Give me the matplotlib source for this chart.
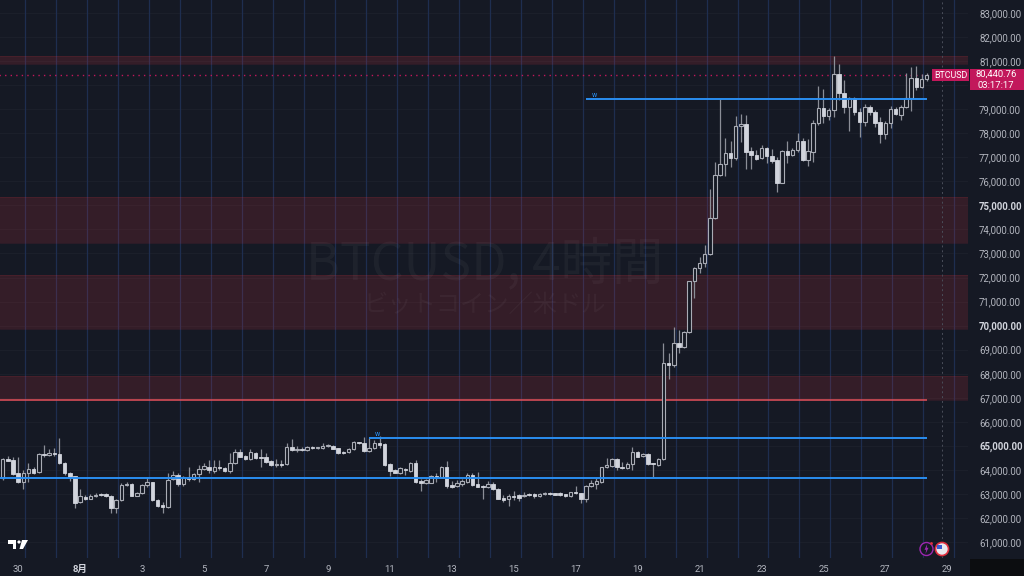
import matplotlib
matplotlib.use('Agg')
import matplotlib.pyplot as plt
from matplotlib.patches import Rectangle, Circle, Polygon
import numpy as np

# 4h candles, BTCUSD (first candle = Jul 29 12:00)
opens = [63652, 64442, 64414, 63859, 63485, 63859, 64040, 63901, 64677, 64608,
         64705, 64663, 64289, 63873, 63735, 62654, 62889, 62806, 62917, 63000,
         63000, 62917, 62404, 62737, 63360, 63416, 62931, 63028, 63374, 63485,
         62765, 62529, 62446, 63610, 63790, 63416, 63693, 63610, 63832, 64040,
         64137, 63970, 64109, 64081, 63970, 64275, 64746, 64580, 64442, 64719,
         64525, 64538, 64372, 64220, 64261, 64234, 64940, 64830, 64857, 64830,
         64968, 64913, 64913, 64996, 65010, 64899, 64760, 64733, 64857, 65148,
         65107, 64802, 64899, 65135, 65065, 64234, 63984, 63859, 64040, 63970,
         64303, 63541, 63444, 63471, 63749, 63721, 64137, 63374, 63333, 63416,
         63513, 63790, 63402, 63333, 63305, 63416, 63208, 62848, 62778, 62917,
         62945, 62917, 63000, 62986, 62917, 62986, 63042, 63028, 63042, 62986,
         62917, 63069, 63028, 62778, 63333, 63402, 63513, 64109, 64178, 64442,
         64137, 64081, 64247, 64760, 64580, 64649, 64275, 64206, 64443, 68460,
         68349, 69264, 69098, 69736, 71842, 72383, 72591, 72965, 74462, 76264,
         76721, 77165, 76957, 78301, 78384, 77276, 77095, 76957, 77372, 77054,
         76887, 75946, 77262, 77096, 77304, 77692, 76888, 77235, 78413, 79037,
         78718, 78967, 80464, 79660, 79078, 79452, 78898, 78482, 79078, 78898,
         78482, 77969, 78413, 78995, 78759, 79078, 79452, 80284, 79910, 80242]
highs = [64483, 64594, 64552, 64525, 63998, 64275, 64137, 64691, 65038, 64857,
         64899, 65315, 64344, 63929, 63749, 63194, 62958, 63000, 63055, 63042,
         63028, 62958, 62778, 63444, 63513, 63444, 63097, 63402, 63721, 63513,
         62806, 62681, 63859, 63970, 63859, 63749, 64137, 63887, 64206, 64303,
         64414, 64414, 64414, 64137, 64691, 64857, 64857, 64622, 64857, 64760,
         64857, 64691, 64414, 64442, 64414, 65107, 65301, 64996, 64968, 64996,
         64996, 64968, 65107, 65079, 65038, 64927, 64802, 64899, 65218, 65176,
         65356, 65315, 65245, 65412, 65107, 64303, 64026, 64109, 64067, 64344,
         64414, 63610, 63610, 63790, 63859, 64164, 64386, 63541, 63582, 63610,
         63887, 63859, 63929, 63360, 63541, 63513, 63236, 62958, 63000, 63139,
         63000, 63097, 63055, 63028, 63028, 63069, 63069, 63055, 63069, 63014,
         63097, 63333, 63055, 63360, 63582, 63652, 64137, 64483, 64483, 64483,
         64344, 64344, 64940, 64802, 64719, 64691, 64303, 64483, 69266, 68849,
         69930, 69819, 69791, 71870, 72452, 72868, 73353, 75668, 76818, 79410,
         77788, 77691, 78717, 78800, 78758, 77414, 77303, 77511, 77442, 77331,
         77026, 77304, 77692, 77373, 77997, 77789, 77748, 78551, 79965, 79827,
         79037, 81213, 80880, 80215, 79522, 79522, 79037, 79217, 79175, 78967,
         78662, 78524, 79134, 79078, 79175, 80520, 80769, 80797, 80464, 80520]
lows = [63582, 64358, 63790, 63444, 63194, 63513, 63832, 63887, 64525, 64580,
        64580, 64247, 63790, 63541, 62432, 62612, 62751, 62778, 62889, 62917,
        62875, 62196, 62196, 62709, 63333, 62917, 62903, 63000, 63305, 62709,
        62473, 62224, 62404, 63582, 63319, 63347, 63541, 63582, 63513, 63998,
        63887, 63887, 63998, 63929, 63859, 64247, 64525, 64414, 64414, 64442,
        64109, 64303, 64178, 64137, 64109, 64206, 64802, 64760, 64802, 64802,
        64885, 64885, 64885, 64968, 64857, 64663, 64677, 64719, 64830, 65093,
        64760, 64760, 64857, 64899, 64178, 63762, 63859, 63832, 63790, 63929,
        63471, 63139, 63416, 63444, 63513, 63693, 63236, 63236, 63305, 63333,
        63471, 63333, 63277, 62778, 63263, 63166, 62778, 62681, 62501, 62751,
        62695, 62889, 62917, 62834, 62889, 62958, 62958, 62945, 62931, 62875,
        62889, 63000, 62640, 62681, 63305, 63194, 63471, 64067, 64137, 63998,
        64026, 64053, 63998, 64525, 64552, 64220, 63693, 64178, 64420, 67768,
        68294, 68849, 69070, 69708, 71136, 72175, 72452, 72937, 74434, 76222,
        76222, 76610, 76887, 77650, 76513, 76513, 76887, 76915, 76749, 76777,
        75571, 75918, 76777, 77054, 77235, 76860, 76639, 76819, 78343, 78441,
        78551, 78690, 79383, 78856, 78108, 78759, 77831, 78302, 78759, 78246,
        77609, 77748, 78205, 78759, 78551, 79037, 78939, 79799, 79868, 80187]
closes = [64442, 64386, 63832, 63485, 63859, 64026, 63887, 64663, 64622, 64705,
          64649, 64275, 63859, 63721, 62640, 62903, 62792, 62917, 62972, 62945,
          62903, 62418, 62751, 63374, 63416, 62931, 63042, 63374, 63499, 62751,
          62515, 62473, 63582, 63776, 63416, 63693, 63610, 63832, 64026, 64164,
          63998, 64109, 64067, 63970, 64275, 64746, 64552, 64442, 64733, 64511,
          64497, 64331, 64220, 64261, 64220, 64940, 64830, 64857, 64830, 64968,
          64913, 64940, 64996, 65024, 64885, 64691, 64691, 64857, 65176, 65107,
          64802, 64899, 65107, 65038, 64206, 63970, 63887, 64067, 63998, 64303,
          63513, 63444, 63582, 63749, 63721, 64137, 63347, 63305, 63444, 63554,
          63790, 63374, 63305, 63305, 63416, 63194, 62806, 62751, 62917, 62862,
          62848, 62972, 62945, 62903, 63000, 63028, 62986, 62972, 62958, 62903,
          63069, 63028, 62806, 63333, 63444, 63541, 64109, 64206, 64442, 64109,
          64081, 64247, 64760, 64552, 64663, 64247, 64234, 64442, 68460, 68349,
          69264, 69098, 69736, 71842, 72383, 72591, 72965, 74462, 76264, 76721,
          77165, 76984, 78301, 78384, 77234, 77095, 76929, 77372, 77054, 76860,
          75945, 77262, 77096, 77304, 77692, 76888, 77262, 78413, 79037, 78718,
          78967, 80464, 79660, 79078, 79452, 78898, 78482, 79078, 78898, 78441,
          77969, 78441, 78995, 78801, 79078, 79452, 80284, 79910, 80242, 80441]

day_labels = ['30', '8月', '3', '5', '7', '9', '11', '13', '15', '17', '19',
              '21', '23', '25', '27', '29']
price_ticks = list(range(61000, 84000, 1000))

zones = [(80879, 81212), (73437, 75349), (69861, 72106), (66909, 67907)]
red_level = 66909
blue_levels = [79424, 65328, 63665]
blue_starts = [113, 71, -1]
last_price = 80440.76

BG = '#151924'
TXT = '#b2b5be'
PINK = '#c2185b'

plt.rcParams['font.family'] = ['Roboto', 'Noto Sans CJK JP', 'DejaVu Sans']

fig = plt.figure(figsize=(10.24, 5.76), dpi=100, facecolor=BG)
ax = fig.add_axes([0, 18 / 576, 968 / 1024, 558 / 576])
ax.set_facecolor(BG)
ax.set_xlim(-0.52, 187.0)
ax.set_ylim(60339, 83540)
for s in ax.spines.values():
    s.set_visible(False)

# grid
for p in price_ticks:
    ax.axhline(p, color='#1c202b', lw=0.7, zorder=0)
for vx in np.arange(4.35, 187, 6):
    ax.axvline(vx, color='#1e2e50', lw=0.9, zorder=0)

# zones and levels
for lo, hi in zones:
    ax.axhspan(lo, hi, facecolor='#f23645', alpha=0.14, lw=0, zorder=1)
    ax.axhline(lo, color='#f23645', alpha=0.12, lw=0.6, zorder=1)
    ax.axhline(hi, color='#f23645', alpha=0.12, lw=0.6, zorder=1)
ax.hlines(red_level, -1, 179, color='#e0505a', lw=1.1, zorder=2)
for lvl, st in zip(blue_levels, blue_starts):
    ax.hlines(lvl, st, 179, color='#2a8ef0', lw=1.4, zorder=5)
    if st > 0:
        ax.text(st + 1.6, lvl, 'w', color='#2a8ef0', fontsize=5,
                ha='center', va='bottom', zorder=5)

ax.hlines(last_price, -1, 180, color=PINK, lw=1, linestyles=(0, (1, 3)), zorder=2)
ax.axvline(181.9, color='#4a4e5a', lw=0.7, ls=(0, (2, 3)), zorder=1)

# candles
o = np.array(opens); h = np.array(highs); l = np.array(lows); c = np.array(closes)
x = np.arange(len(o))
up = c >= o
ax.vlines(x, l, h, color='#8b8e97', lw=0.9, zorder=3)
bottom = np.minimum(o, c)
height = np.maximum(np.abs(c - o), 30)
ax.bar(x[up], height[up], bottom=bottom[up], width=0.68, facecolor=BG,
       edgecolor='#a9acb5', linewidth=0.8, zorder=4)
ax.bar(x[~up], height[~up], bottom=bottom[~up], width=0.68, facecolor='#d1d4dc',
       edgecolor='#d1d4dc', linewidth=0.6, zorder=4)

# watermark
ax.text(0.501, 0.525, 'BTCUSD, 4時間', transform=ax.transAxes, fontsize=37,
        family=['Noto Sans CJK JP'], color='white', alpha=0.04,
        ha='center', va='center', zorder=1)
ax.text(0.501, 0.453, 'ビットコイン／米ドル', transform=ax.transAxes, fontsize=17.5,
        family=['Noto Sans CJK JP'], color='white', alpha=0.04,
        ha='center', va='center', zorder=1)

# axes ticks
ax.yaxis.tick_right()
ylabels = ['' if p == 80000 else f'{p:,.2f}' for p in price_ticks]
ax.set_yticks(price_ticks, ylabels)
ax.tick_params(axis='y', length=0, pad=8, labelsize=6.9, labelcolor=TXT)
for t, p in zip(ax.get_yticklabels(), price_ticks):
    if p % 5000 == 0:
        t.set_fontweight('bold')
        t.set_color('#d1d4dc')

ax.set_xticks(3 + 12 * np.arange(len(day_labels)), day_labels)
ax.tick_params(axis='x', length=0, pad=5, labelsize=6.8, labelcolor=TXT)
for t in ax.get_xticklabels():
    if t.get_text() == '8月':
        t.set_fontweight('bold')
        t.set_color('#d1d4dc')

# price labels at top right (pixel coords, top origin)
def px(xp, yp):
    return xp / 1024, (576 - yp) / 576

x0, y0 = px(932, 81)
fig.patches.append(Rectangle((x0, y0), 37 / 1024, 12 / 576, transform=fig.transFigure,
                             facecolor=PINK, edgecolor='none', zorder=5))
fig.text(*px(950.5, 75), 'BTCUSD', color='white', fontsize=6.4, ha='center',
         va='center', zorder=6)
x0, y0 = px(970, 90)
fig.patches.append(Rectangle((x0, y0), 54 / 1024, 21 / 576, transform=fig.transFigure,
                             facecolor=PINK, edgecolor='none', zorder=5))
fig.text(*px(996, 74.5), f'{last_price:,.2f}', color='white', fontsize=6.8,
         ha='center', va='center', zorder=6)
fig.text(*px(996, 85), '03:17:17', color='white', fontsize=6.8,
         ha='center', va='center', zorder=6)

# bottom right corner
x0, y0 = px(970, 576)
fig.patches.append(Rectangle((x0, y0), 54 / 1024, 17 / 576, transform=fig.transFigure,
                             facecolor='#0c0d10', edgecolor='none', zorder=5))

# event icons
ins = fig.dpi_scale_trans
fig.patches.append(Circle((9.265, 0.27), 0.065, transform=ins, facecolor=BG,
                          edgecolor='#9c27b0', lw=1.0, zorder=6))
fig.patches.append(Polygon([(9.272, 0.32), (9.245, 0.262), (9.262, 0.262),
                            (9.255, 0.22), (9.285, 0.282), (9.268, 0.282)],
                           closed=True, transform=ins, facecolor='#9c27b0',
                           edgecolor='none', zorder=7))
fig.patches.append(Circle((9.315, 0.325), 0.014, transform=ins, facecolor='#e03040',
                          edgecolor='none', zorder=7))
fig.patches.append(Circle((9.42, 0.27), 0.065, transform=ins, facecolor='#e8e8ee',
                          edgecolor='#e03040', lw=1.2, zorder=6))
fig.patches.append(Rectangle((9.37, 0.27), 0.05, 0.045, transform=ins,
                             facecolor='#3a5bd0', edgecolor='none', zorder=7))

# tradingview logo
def pin(xp, yp):
    return xp / 100, (576 - yp) / 100

fig.patches.append(Polygon([pin(8, 540), pin(16, 540), pin(16, 549), pin(12.5, 549),
                            pin(12.5, 543.5), pin(8, 543.5)], closed=True,
                           transform=ins, facecolor='white', edgecolor='none', zorder=6))
fig.patches.append(Circle(pin(19, 542), 0.016, transform=ins, facecolor='white',
                          edgecolor='none', zorder=6))
fig.patches.append(Polygon([pin(22, 540), pin(28, 540), pin(23, 549), pin(19.5, 549)],
                           closed=True, transform=ins, facecolor='white',
                           edgecolor='none', zorder=6))

fig.savefig('out.png', dpi=100, facecolor=BG)
